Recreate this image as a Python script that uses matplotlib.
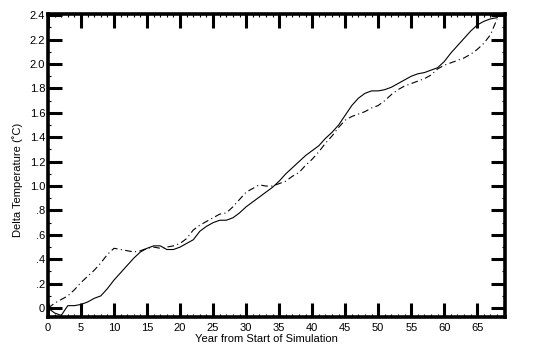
import matplotlib
matplotlib.use("Agg")
import matplotlib.pyplot as plt
from matplotlib.ticker import MultipleLocator, FixedLocator, FixedFormatter
import numpy as np

years = list(range(0, 69))
solid_vals = [0.00, -0.04, -0.06, 0.02, 0.02, 0.03, 0.05, 0.08, 0.10, 0.16,
              0.23, 0.29, 0.35, 0.41, 0.46, 0.49, 0.51, 0.51, 0.48, 0.48,
              0.50, 0.53, 0.56, 0.63, 0.67, 0.70, 0.72, 0.72, 0.74, 0.78,
              0.83, 0.87, 0.91, 0.95, 0.99, 1.04, 1.10, 1.15, 1.20, 1.25,
              1.29, 1.33, 1.39, 1.44, 1.50, 1.58, 1.66, 1.72, 1.76, 1.78,
              1.78, 1.79, 1.81, 1.84, 1.87, 1.90, 1.92, 1.93, 1.95, 1.97,
              2.02, 2.09, 2.15, 2.21, 2.27, 2.32, 2.35, 2.37, 2.38]
dashdot_vals = [0.00, 0.04, 0.07, 0.10, 0.15, 0.21, 0.26, 0.31, 0.37, 0.44,
                0.49, 0.48, 0.47, 0.46, 0.47, 0.49, 0.50, 0.49, 0.50, 0.51,
                0.53, 0.57, 0.64, 0.68, 0.71, 0.74, 0.77, 0.78, 0.83, 0.89,
                0.95, 0.98, 1.01, 1.00, 1.00, 1.02, 1.04, 1.08, 1.11, 1.17,
                1.22, 1.28, 1.35, 1.41, 1.48, 1.54, 1.57, 1.59, 1.61, 1.64,
                1.66, 1.70, 1.75, 1.79, 1.82, 1.84, 1.86, 1.88, 1.91, 1.96,
                1.99, 2.01, 2.03, 2.05, 2.08, 2.12, 2.17, 2.24, 2.37]
x_ticks = [0, 5, 10, 15, 20, 25, 30, 35, 40, 45, 50, 55, 60, 65]
y_ticks = [0, 0.2, 0.4, 0.6, 0.8, 1.0, 1.2, 1.4, 1.6, 1.8, 2.0, 2.2, 2.4]
y_tick_labels = ["0", ".2", ".4", ".6", ".8", "1.0", "1.2", "1.4", "1.6",
                 "1.8", "2.0", "2.2", "2.4"]

plt.rcParams['font.family'] = ['Liberation Sans', 'DejaVu Sans']

W, H = 544, 355
fig = plt.figure(figsize=(W / 100, H / 100), dpi=100)
ax = fig.add_axes([48 / W, 1 - 317 / H, (505 - 48) / W, (317 - 14) / H])

ax.plot(years, solid_vals, color='black', lw=0.8, ls='-')
ax.plot(years, dashdot_vals, color='black', lw=0.8, ls=(0, (6, 3, 1, 3)))

ax.set_xlim(0, 69.2)
ax.set_ylim(-0.073, 2.41)

ax.xaxis.set_major_locator(FixedLocator(x_ticks))
ax.xaxis.set_minor_locator(MultipleLocator(1))
ax.yaxis.set_major_locator(FixedLocator(y_ticks))
ax.yaxis.set_major_formatter(FixedFormatter(y_tick_labels))
ax.yaxis.set_minor_locator(MultipleLocator(0.1))

ax.tick_params(which='major', direction='in', top=True, right=True,
               length=10, width=2.2, labelsize=8, pad=2)
ax.tick_params(which='minor', direction='in', top=True, right=True,
               length=2.5, width=0.8)
ax.tick_params(axis='x', which='major', pad=4)

for s in ax.spines.values():
    s.set_linewidth(2.6)

ax.set_xlabel("Year from Start of Simulation", fontsize=8)
ax.set_ylabel("Delta Temperature (˚C)", fontsize=8)
ax.xaxis.set_label_coords((266 - 48) / (505 - 48), -(334 - 317) / (317 - 14))
ax.yaxis.set_label_coords(-(48 - 23) / (505 - 48), (317 - 180) / (317 - 14))

fig.savefig("out.png", dpi=100)
